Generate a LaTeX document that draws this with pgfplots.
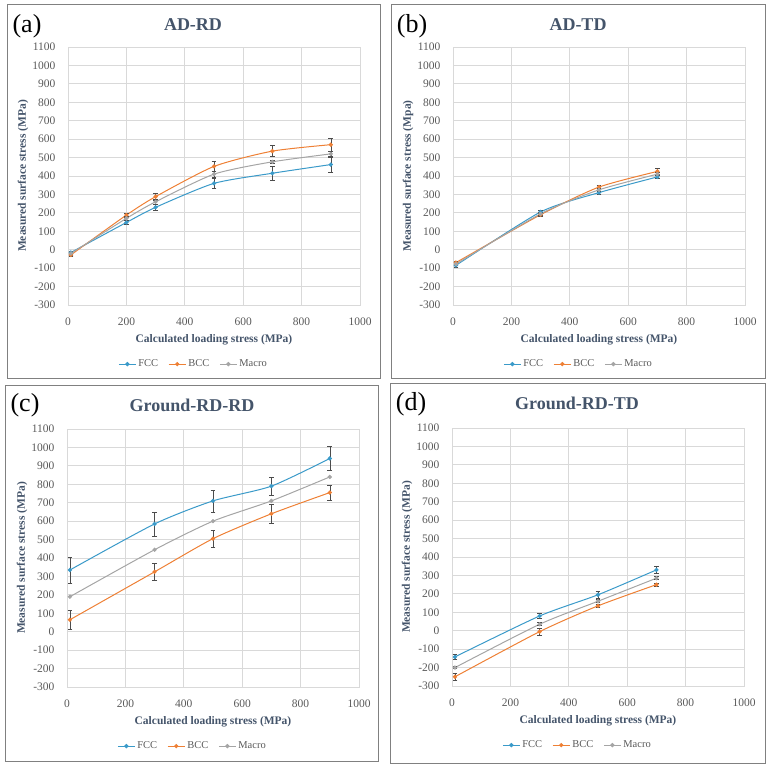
\documentclass[border=0pt]{standalone}
\usepackage{fontspec}
\setmainfont{Liberation Serif}
\usepackage{pgfplots}
\pgfplotsset{compat=1.18}
\definecolor{fcc}{HTML}{3A9AC9}
\definecolor{bcc}{HTML}{EE8035}
\definecolor{mac}{HTML}{A5A5A5}
\definecolor{ttl}{HTML}{44546A}
\definecolor{tck}{HTML}{595959}
\definecolor{grd}{HTML}{D9D9D9}
\definecolor{frm}{HTML}{808080}
\pgfplotsset{panel/.style={
 scale only axis, width=292pt, height=258pt, anchor=south west,
 xmin=0,xmax=1000,ymin=-300,ymax=1100,
 xtick={0,200,...,1000}, ytick={-300,-200,...,1100},
 grid=major, major grid style={grd, line width=0.8pt},
 axis line style={grd, line width=0.8pt},
 major tick length=0pt,
 /pgf/number format/assume math mode=true,
 /pgf/number format/1000 sep={},
 ticklabel style={font=\fontsize{11.5}{13}\selectfont, text=tck},
 yticklabel style={xshift=-9pt},
 xticklabel style={yshift=-9pt},
 label style={font=\bfseries\fontsize{11.5}{13}\selectfont, text=ttl},
 xlabel={Calculated loading stress (MPa)},
 xlabel style={at={(axis description cs:0.5,0)}, anchor=center, yshift=-35pt},
 ylabel style={at={(axis description cs:-0.154,0.5)}, anchor=center},
 legend style={at={(axis description cs:0.43,-0.229)}, anchor=center, draw=none, fill=none, legend columns=3, font=\fontsize{10.5}{12}\selectfont, text=tck, /tikz/every even column/.append style={column sep=8pt}},
 every axis plot/.append style={smooth, tension=0.4, line width=1pt, mark=*, mark size=1.6pt},
 error bars/y dir=both, error bars/y explicit,
 error bars/error bar style={line width=0.6pt, black!70, solid},
 error bars/error mark=-,
 error bars/error mark options={rotate=90, mark size=2.4pt, line width=0.6pt, black!70},
}}
\begin{document}
\begin{tikzpicture}
\path[use as bounding box] (0pt,0pt) rectangle (770pt,-767pt);
% frames
\draw[frm, line width=1pt] (7pt,-5pt) rectangle (380pt,-378pt);
\draw[frm, line width=1pt] (391pt,-5pt) rectangle (765pt,-378pt);
\draw[frm, line width=1pt] (5pt,-385pt) rectangle (378pt,-761pt);
\draw[frm, line width=1pt] (390pt,-383pt) rectangle (765pt,-763pt);
% titles
\node[font=\bfseries\fontsize{18}{20}\selectfont, text=ttl] at (193pt,-25pt) {AD-RD};
\node[font=\bfseries\fontsize{18}{20}\selectfont, text=ttl] at (578pt,-25pt) {AD-TD};
\node[font=\bfseries\fontsize{18}{20}\selectfont, text=ttl] at (192pt,-405pt) {Ground-RD-RD};
\node[font=\bfseries\fontsize{18}{20}\selectfont, text=ttl] at (577pt,-403pt) {Ground-RD-TD};
\node[font=\fontsize{26}{28}\selectfont] at (27pt,-26pt) {(a)};
\node[font=\fontsize{26}{28}\selectfont] at (412pt,-26pt) {(b)};
\node[font=\fontsize{26}{28}\selectfont] at (25pt,-405pt) {(c)};
\node[font=\fontsize{26}{28}\selectfont] at (411pt,-404pt) {(d)};

% (a)
\begin{axis}[panel, at={(68pt,-305pt)}, ylabel={Measured surface stress (MPa)}]
\addplot[fcc, mark options={fcc}] coordinates {(10,-15)+-(0,8) (200,148)+-(0,12) (300,230)+-(0,14) (500,360)+-(0,28) (700,415)+-(0,38) (900,462)+-(0,42)};
\addplot[bcc, mark options={bcc}] coordinates {(10,-28)+-(0,10) (200,188)+-(0,12) (300,288)+-(0,18) (500,452)+-(0,28) (700,535)+-(0,30) (900,570)+-(0,35)};
\addplot[mac, mark options={mac}] coordinates {(10,-20)+-(0,8) (200,170)+-(0,10) (300,260)+-(0,12) (500,410)+-(0,15) (700,477)+-(0,10) (900,520)+-(0,12)};
\legend{FCC,BCC,Macro}
\end{axis}

% (b)
\begin{axis}[panel, at={(453pt,-305pt)}, ylabel={Measured surface stress (Mpa)}]
\addplot[fcc, mark options={fcc}] coordinates {(10,-85)+-(0,8) (300,205)+-(0,8) (500,310)+-(0,8) (700,395)+-(0,8)};
\addplot[bcc, mark options={bcc}] coordinates {(10,-70)+-(0,8) (300,190)+-(0,8) (500,340)+-(0,10) (700,425)+-(0,18)};
\addplot[mac, mark options={mac}] coordinates {(10,-78)+-(0,8) (300,195)+-(0,8) (500,325)+-(0,8) (700,410)+-(0,8)};
\legend{FCC,BCC,Macro}
\end{axis}

% (c)
\begin{axis}[panel, at={(67pt,-687pt)}, ylabel={Measured surface stress (MPa)}]
\addplot[fcc, mark options={fcc}] coordinates {(10,335)+-(0,70) (300,585)+-(0,65) (500,710)+-(0,60) (700,790)+-(0,50) (900,940)+-(0,65)};
\addplot[bcc, mark options={bcc}] coordinates {(10,65)+-(0,50) (300,325)+-(0,45) (500,505)+-(0,45) (700,640)+-(0,50) (900,755)+-(0,42)};
\addplot[mac, mark options={mac}, error bars/y dir=none] coordinates {(10,190) (300,445) (500,600) (700,710) (900,840)};
\legend{FCC,BCC,Macro}
\end{axis}

% (d)
\begin{axis}[panel, at={(452pt,-686pt)}, ylabel={Measured surface stress (MPa)}]
\addplot[fcc, mark options={fcc}] coordinates {(10,-142)+-(0,15) (300,80)+-(0,12) (500,195)+-(0,20) (700,330)+-(0,18)};
\addplot[bcc, mark options={bcc}] coordinates {(10,-250)+-(0,18) (300,-5)+-(0,20) (500,135)+-(0,8) (700,250)+-(0,10)};
\addplot[mac, mark options={mac}] coordinates {(10,-200)+-(0,5) (300,35)+-(0,8) (500,160)+-(0,8) (700,285)+-(0,8)};
\legend{FCC,BCC,Macro}
\end{axis}
\end{tikzpicture}
\end{document}
